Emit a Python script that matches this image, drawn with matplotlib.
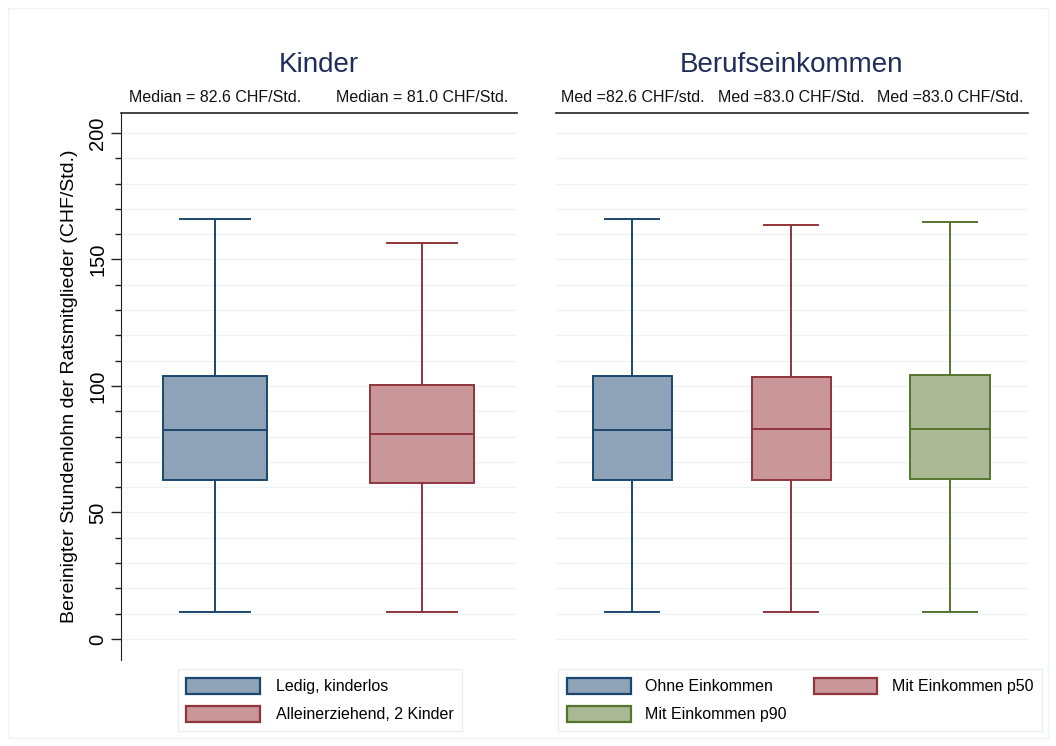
import matplotlib
matplotlib.use("Agg")
import matplotlib.pyplot as plt
from matplotlib.patches import Patch, Rectangle

plt.rcParams['font.family'] = ['Liberation Sans', 'DejaVu Sans']

# ---- data ----
left_labels = ["Ledig, kinderlos", "Alleinerziehend, 2 Kinder"]
left_low = [10.5, 10.5]
left_q1 = [62.7, 61.6]
left_med = [82.6, 81.0]
left_q3 = [104.0, 100.5]
left_high = [166.0, 156.5]
left_sub = ["Median = 82.6 CHF/Std.", "Median = 81.0 CHF/Std."]

right_labels = ["Ohne Einkommen", "Mit Einkommen p50", "Mit Einkommen p90"]
right_low = [10.5, 10.5, 10.5]
right_q1 = [62.7, 63.0, 63.3]
right_med = [82.6, 83.0, 83.0]
right_q3 = [104.0, 103.5, 104.3]
right_high = [166.0, 163.5, 165.0]
right_sub = ["Med =82.6 CHF/std.", "Med =83.0 CHF/Std.", "Med =83.0 CHF/Std."]

titles = ["Kinder", "Berufseinkommen"]
ylabel = "Bereinigter Stundenlohn der Ratsmitglieder (CHF/Std.)"
yticks = [0, 50, 100, 150, 200]

edge_cols = ["#1a476f", "#90353b", "#55752f"]
fill_cols = ["#8ea3b8", "#c99699", "#aab994"]

W, H = 1056, 746
fig = plt.figure(figsize=(W / 100, H / 100), dpi=100)
fig.patches.append(Rectangle((8 / W, 8 / H), 1040 / W, 730 / H, transform=fig.transFigure,
                             fill=False, edgecolor="#f0f3f5", lw=1))

def px(x0, y0, x1, y1):
    return [x0 / W, 1 - y1 / H, (x1 - x0) / W, (y1 - y0) / H]

axL = fig.add_axes(px(121, 113, 517, 660))
axR = fig.add_axes(px(556, 113, 1028, 660))

def draw(ax, low, q1, med, q3, high, xlim):
    n = len(med)
    for i in range(n):
        st = dict(med=med[i], q1=q1[i], q3=q3[i], whislo=low[i], whishi=high[i], fliers=[])
        ax.bxp([st], positions=[i + 1], widths=0.5, patch_artist=True,
               showfliers=False, manage_ticks=False,
               boxprops=dict(facecolor=fill_cols[i], edgecolor=edge_cols[i], lw=1.4),
               medianprops=dict(color=edge_cols[i], lw=1.4),
               whiskerprops=dict(color=edge_cols[i], lw=1.4),
               capprops=dict(color=edge_cols[i], lw=1.4),
               capwidths=0.34)
    ax.set_xlim(*xlim)
    ax.set_ylim(-8.3, 207.9)
    for v in range(0, 201, 10):
        ax.axhline(v, color="#edf3f4", lw=1, zorder=0)
    ax.set_xticks([])
    for s in ["right", "bottom"]:
        ax.spines[s].set_visible(False)
    ax.spines["top"].set_color("#222222")
    ax.spines["top"].set_linewidth(1.2)

draw(axL, left_low, left_q1, left_med, left_q3, left_high, (0.546, 2.459))
draw(axR, right_low, right_q1, right_med, right_q3, right_high, (0.519, 3.49))

axL.set_yticks(yticks)
axL.set_yticks(range(0, 201, 10), minor=True)
axL.set_yticklabels([str(t) for t in yticks], rotation=90, va="center", fontsize=14.5)
axL.tick_params(axis="y", which="major", length=7, width=1, color="#222222", pad=3)
axL.tick_params(axis="y", which="minor", length=4, width=1, color="#222222")
axL.spines["left"].set_color("#222222")
axL.set_ylabel(ylabel, fontsize=14, labelpad=7)

axR.set_yticks([])
axR.spines["left"].set_visible(False)

title_col = "#1e2d5a"
for ax, t in zip([axL, axR], titles):
    ax.text(0.5, 1.0 + 48 / 547, t, transform=ax.transAxes, ha="center", va="center",
            fontsize=20, color=title_col)

for ax, subs in [(axL, left_sub), (axR, right_sub)]:
    for i, s in enumerate(subs):
        ax.text(i + 1, 1.0 + 16 / 547, s, transform=ax.get_xaxis_transform(), ha="center",
                va="center", fontsize=11.5, color="#111111")

handlesL = [Patch(facecolor=fill_cols[i], edgecolor=edge_cols[i], lw=1.6) for i in range(2)]
handlesR = [Patch(facecolor=fill_cols[i], edgecolor=edge_cols[i], lw=1.6) for i in range(3)]
orderR = [0, 2, 1]  # row-wise order like the reference

legL = fig.legend(handlesL, left_labels, loc="center", bbox_to_anchor=(320 / W, 1 - 700 / H),
                  ncol=1, fontsize=11.5, frameon=True, fancybox=False, handlelength=4.6,
                  handleheight=1.25, handletextpad=1.0, labelspacing=0.7, borderpad=0.55,
                  borderaxespad=0)
legR = fig.legend([handlesR[k] for k in orderR], [right_labels[k] for k in orderR],
                  loc="center", bbox_to_anchor=(800 / W, 1 - 700 / H),
                  ncol=2, fontsize=11.5, frameon=True, fancybox=False, handlelength=4.0,
                  handleheight=1.25, handletextpad=0.9, labelspacing=0.7, borderpad=0.55,
                  columnspacing=1.7, borderaxespad=0)
for lg in (legL, legR):
    lg.get_frame().set_edgecolor("#e4ecee")
    lg.get_frame().set_linewidth(1)

fig.savefig("out.png", dpi=100, facecolor="white")
